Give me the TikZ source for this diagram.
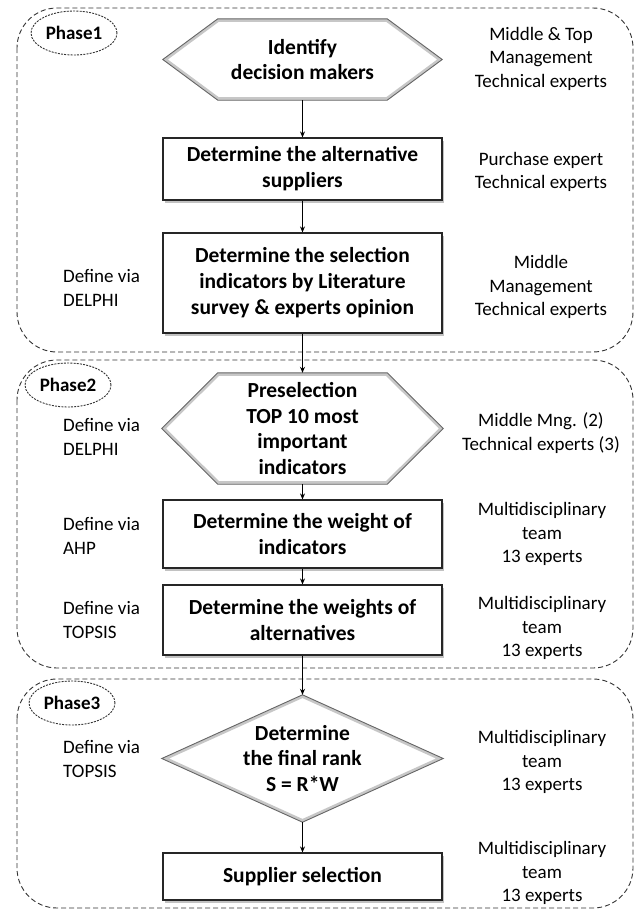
\documentclass[tikz,border=0pt]{standalone}
\usepackage{fontspec}
\setmainfont{Carlito}
\usetikzlibrary{arrows.meta,shapes.geometric,shadows,backgrounds}
\begin{document}
\begin{tikzpicture}[x=1pt,y=-1pt,
  phasebox/.style={draw=black!80,line width=0.9pt,dash pattern=on 5pt off 3pt,rounded corners=40pt},
  phaselabel/.style={ellipse,draw=black!80,fill=white,line width=0.9pt,dash pattern=on 2pt off 1.2pt,minimum width=86pt,minimum height=44pt,inner sep=0pt,font=\bfseries\fontsize{19}{22}\selectfont},
  stepbox/.style={draw=black!85,line width=1.2pt,fill=white,minimum width=279pt,inner sep=0pt,align=center,font=\bfseries\fontsize{21.5}{26}\selectfont,drop shadow={shadow xshift=1.5pt,shadow yshift=-2.5pt,fill=black!40,opacity=0.6}},
  shapetext/.style={align=center,font=\bfseries\fontsize{21.5}{25.5}\selectfont,inner sep=0pt},
  sidetext/.style={align=center,font=\fontsize{19}{23.5}\selectfont,inner sep=0pt},
  lefttext/.style={align=left,font=\fontsize{19}{24}\selectfont,inner sep=0pt,anchor=west},
  arr/.style={-{Stealth[length=6pt,width=5pt]},line width=0.9pt,black},
  hexpath/.style 2 args={insert path={(#1.west) -- ([xshift=#2]#1.north west) -- ([xshift=-#2]#1.north east) -- (#1.east) -- ([xshift=-#2]#1.south east) -- ([xshift=#2]#1.south west) -- cycle}},
  diapath/.style={insert path={(#1.north) -- (#1.east) -- (#1.south) -- (#1.west) -- cycle}},
  bevelband/.style={draw=black!22,line width=6pt,fill=white},
  beveledge/.style={draw=black!60,line width=0.9pt},
]
\useasboundingbox (0,0) rectangle (639,910);

% phase containers
\draw[phasebox] (17,8) rectangle (633,352);
\draw[phasebox] (17,360) rectangle (633,668);
\draw[phasebox] (17,679) rectangle (633,908);

\node[phaselabel] (p1) at (74,33) {Phase1};
\node[phaselabel] (p2) at (68,385) {Phase2};
\node[phaselabel] (p3) at (72,703) {Phase3};

% main column
\node[shapetext,minimum width=279pt,minimum height=81pt] (h1) at (302.5,59.5) {Identify\\decision makers};
\node[stepbox,minimum height=62pt] (b2) at (302.5,169) {Determine the alternative\\suppliers};
\node[stepbox,minimum height=100pt] (b3) at (302.5,283) {Determine the selection\\indicators by Literature\\survey \& experts opinion};
\node[shapetext,minimum width=281pt,minimum height=111pt] (h2) at (302.5,428.5) {Preselection\\TOP 10 most\\important\\indicators};
\node[stepbox,minimum height=68pt] (b4) at (302.5,534) {Determine the weight of\\indicators};
\node[stepbox,minimum height=70pt] (b5) at (302.5,620) {Determine the weights of\\alternatives};
\node[shapetext,minimum width=281pt,minimum height=127pt] (d6) at (302.5,758.5) {Determine\\the final rank\\S = R*W};
\node[stepbox,minimum height=47pt] (b7) at (302.5,876.5) {Supplier selection};

\begin{scope}[on background layer]
  \begin{scope}
    \clip[hexpath={h1}{55pt}];
    \path[bevelband,hexpath={h1}{55pt}];
  \end{scope}
  \path[beveledge,hexpath={h1}{55pt}];
  \begin{scope}
    \clip[hexpath={h2}{56pt}];
    \path[bevelband,hexpath={h2}{56pt}];
  \end{scope}
  \path[beveledge,hexpath={h2}{56pt}];
  \begin{scope}
    \clip[diapath=d6];
    \path[bevelband,diapath=d6];
  \end{scope}
  \path[beveledge,diapath=d6];
\end{scope}

% side texts right
\node[sidetext] (r1) at (541,58.5) {Middle \& Top\\Management\\Technical experts};
\node[sidetext] (r2) at (541,172) {Purchase expert\\Technical experts};
\node[sidetext] (r3) at (541,287) {Middle\\Management\\Technical experts};
\node[sidetext] (r4) at (541,433) {Middle Mng. (2)\\Technical experts (3)};
\node[sidetext] (r5) at (542,534) {Multidisciplinary\\team\\13 experts};
\node[sidetext] (r6) at (542,628) {Multidisciplinary\\team\\13 experts};
\node[sidetext] (r7) at (542,762) {Multidisciplinary\\team\\13 experts};
\node[sidetext] (r8) at (542,873) {Multidisciplinary\\team\\13 experts};

% side texts left
\node[lefttext] (l3) at (63,288) {Define via\\DELPHI};
\node[lefttext] (l4) at (63,437) {Define via\\DELPHI};
\node[lefttext] (l5) at (63,536) {Define via\\AHP};
\node[lefttext] (l6) at (63,620) {Define via\\TOPSIS};
\node[lefttext] (l7) at (63,759) {Define via\\TOPSIS};

% connectors
\draw[arr] (h1.south) -- (b2.north);
\draw[arr] (b2.south) -- (b3.north);
\draw[arr] (b3.south) -- (h2.north);
\draw[arr] (h2.south) -- (b4.north);
\draw[arr] (b4.south) -- (b5.north);
\draw[arr] (b5.south) -- (d6.north);
\draw[arr] (d6.south) -- (b7.north);
\end{tikzpicture}
\end{document}
